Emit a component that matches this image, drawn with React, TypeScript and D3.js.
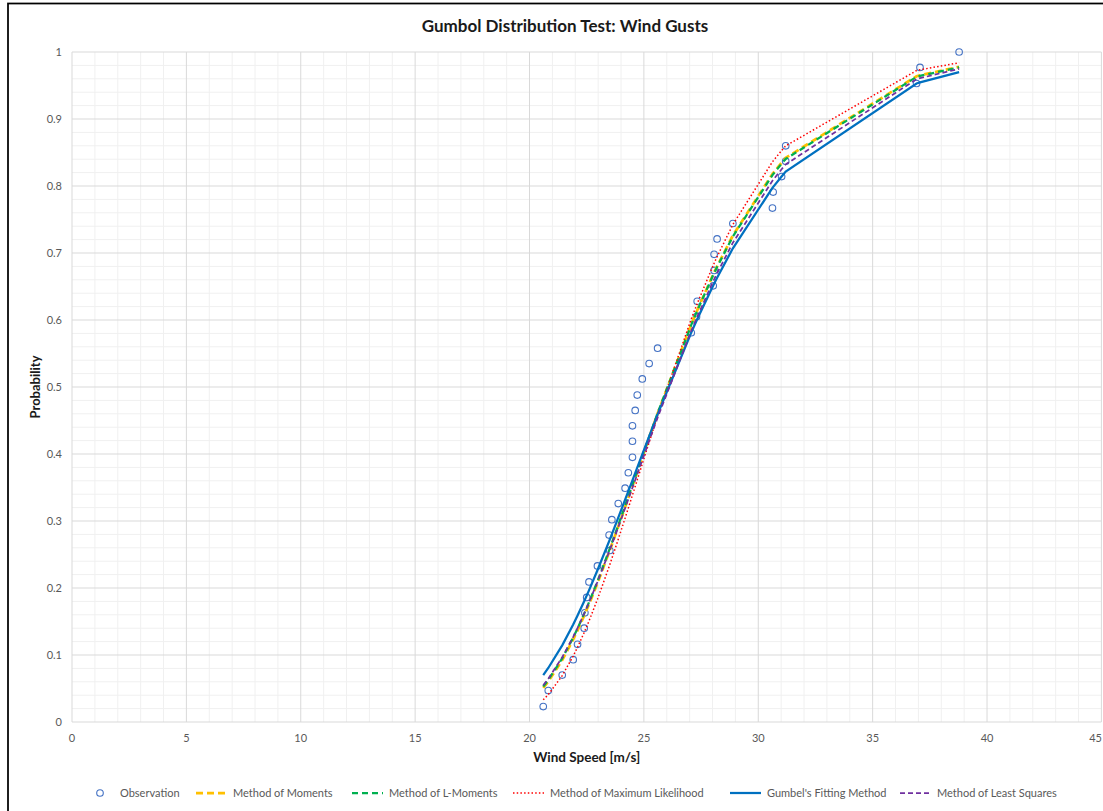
import React from "react";
import * as d3 from "d3";

// ---- Data ----
const obsX = [20.6, 20.82, 21.43, 21.91, 22.1, 22.39, 22.42, 22.5, 22.6, 22.97, 23.51, 23.48, 23.6, 23.88, 24.18, 24.32, 24.5, 24.5, 24.5, 24.62, 24.71, 24.93, 25.23, 25.6, 27.07, 27.3, 27.33, 28.03, 28.07, 28.07, 28.2, 28.89, 30.62, 30.65, 31.02, 31.2, 31.2, 36.92, 37.07, 38.78];
const obsP = [0.023, 0.047, 0.07, 0.093, 0.116, 0.14, 0.163, 0.186, 0.209, 0.233, 0.256, 0.279, 0.302, 0.326, 0.349, 0.372, 0.395, 0.419, 0.442, 0.465, 0.488, 0.512, 0.535, 0.558, 0.581, 0.605, 0.628, 0.651, 0.674, 0.698, 0.721, 0.744, 0.767, 0.791, 0.814, 0.837, 0.86, 0.953, 0.977, 1.0];

const fitX = [20.6, 20.82, 21.43, 21.91, 22.1, 22.39, 22.6, 22.97, 23.5, 23.88, 24.18, 24.5, 24.71, 24.93, 25.23, 25.6, 27.07, 27.33, 28.03, 28.2, 28.89, 30.62, 31.02, 31.2, 36.92, 37.07, 38.78];
const momentsP = [0.0509, 0.0604, 0.0924, 0.1233, 0.1368, 0.1589, 0.1757, 0.2072, 0.2554, 0.2917, 0.3208, 0.3524, 0.3732, 0.3949, 0.4245, 0.4604, 0.5932, 0.6144, 0.668, 0.6802, 0.7261, 0.8179, 0.8348, 0.842, 0.9638, 0.9652, 0.9779];
const lMomentsP = [0.053, 0.0627, 0.095, 0.1261, 0.1396, 0.1617, 0.1785, 0.2099, 0.258, 0.2938, 0.3229, 0.3541, 0.3748, 0.3963, 0.4255, 0.4611, 0.5927, 0.6138, 0.6671, 0.6791, 0.7247, 0.8163, 0.8333, 0.8404, 0.9629, 0.9643, 0.9772];
const maxLikP = [0.0331, 0.0409, 0.0692, 0.0984, 0.1116, 0.1335, 0.1506, 0.1831, 0.2338, 0.2728, 0.3044, 0.3387, 0.3614, 0.3852, 0.4175, 0.4569, 0.6015, 0.6244, 0.6816, 0.6945, 0.7425, 0.8361, 0.8529, 0.8599, 0.9723, 0.9735, 0.9839];
const gumbelP = [0.07, 0.0806, 0.1144, 0.1456, 0.159, 0.1803, 0.1965, 0.2265, 0.2715, 0.3049, 0.3318, 0.3606, 0.3796, 0.3995, 0.4264, 0.4592, 0.5813, 0.6012, 0.6515, 0.6631, 0.707, 0.7972, 0.8142, 0.8215, 0.9529, 0.9546, 0.9699];
const leastSqP = [0.0549, 0.0646, 0.0966, 0.1271, 0.1404, 0.1619, 0.1784, 0.2091, 0.2558, 0.2908, 0.3192, 0.3497, 0.3698, 0.3909, 0.4195, 0.4543, 0.584, 0.6049, 0.6577, 0.6698, 0.7154, 0.8078, 0.8251, 0.8323, 0.9595, 0.961, 0.9749];

const xTicks = [0, 5, 10, 15, 20, 25, 30, 35, 40, 45];
const yTicks = [0, 0.1, 0.2, 0.3, 0.4, 0.5, 0.6, 0.7, 0.8, 0.9, 1];

const seriesNames = ["Method of Moments", "Method of L-Moments", "Method of Maximum Likelihood", "Gumbel's Fitting Method", "Method of Least Squares"];
const seriesValues = [momentsP, lMomentsP, maxLikP, gumbelP, leastSqP];

// ---- Styles ----
const seriesStyles = [
  { color: "#FFC000", width: 2.75, dash: "7,4" },
  { color: "#00B050", width: 2.25, dash: "6,4" },
  { color: "#FF0000", width: 1.5, dash: "1.5,2.2" },
  { color: "#0070C0", width: 2.25, dash: "" },
  { color: "#7030A0", width: 1.75, dash: "5,3" },
];
const legendLineX = [196, 352, 513, 730, 900];
const FONT = "Lato, 'Open Sans', sans-serif";

export default function App() {
  const W = 1103, H = 811;
  const left = 72, right = 1101.4, top = 52, bottom = 722;
  const x = d3.scaleLinear().domain([0, 45]).range([left, right]);
  const y = d3.scaleLinear().domain([0, 1]).range([bottom, top]);

  const minorX = d3.range(0, 46, 1).filter((v) => v % 5 !== 0);
  const minorY = d3.range(0, 51, 1).map((v) => v / 50).filter((v, i) => i % 5 !== 0);

  const line = d3
    .line<number>()
    .x((_, i) => x(fitX[i]))
    .y((d) => y(d));

  return (
    <svg width={W} height={H} style={{ position: "absolute", left: 0, top: 0, background: "#fff" }} fontFamily={FONT}>
      <rect x={0} y={0} width={W} height={H} fill="#fff" />
      <rect x={8} y={3.5} width={W + 20} height={H + 20} fill="none" stroke="#000" strokeWidth={1.75} />
      <text x={565} y={32} textAnchor="middle" fontSize={17} fontWeight="bold" fill="#1a1a1a">
        Gumbol Distribution Test: Wind Gusts
      </text>

      {/* minor grid */}
      {minorX.map((v) => (
        <line key={"mx" + v} x1={x(v)} x2={x(v)} y1={top} y2={bottom} stroke="#f0f0f0" strokeWidth={1} />
      ))}
      {minorY.map((v) => (
        <line key={"my" + v} x1={left} x2={right} y1={y(v)} y2={y(v)} stroke="#f0f0f0" strokeWidth={1} />
      ))}
      {/* major grid */}
      {xTicks.map((v) => (
        <line key={"gx" + v} x1={x(v)} x2={x(v)} y1={top} y2={bottom} stroke="#d9d9d9" strokeWidth={1} />
      ))}
      {yTicks.map((v) => (
        <line key={"gy" + v} x1={left} x2={right} y1={y(v)} y2={y(v)} stroke="#d9d9d9" strokeWidth={1} />
      ))}

      {/* tick labels */}
      {xTicks.map((v) => {
        const px = x(v);
        const edge = px + 8 > W;
        return (
          <text key={"tx" + v} x={edge ? W - 1 : px} y={742} textAnchor={edge ? "end" : "middle"} fontSize={11} fill="#595959">
            {v}
          </text>
        );
      })}
      {yTicks.map((v) => (
        <text key={"ty" + v} x={62} y={y(v) + 4} textAnchor="end" fontSize={11} fill="#595959">
          {v}
        </text>
      ))}

      {/* axis titles */}
      <text x={(left + right) / 2} y={762} textAnchor="middle" fontSize={13.5} fontWeight="bold" fill="#1a1a1a">
        Wind Speed [m/s]
      </text>
      <text transform={`translate(40, ${(top + bottom) / 2}) rotate(-90)`} textAnchor="middle" fontSize={13} fontWeight="bold" fill="#1a1a1a">
        Probability
      </text>

      {/* observations */}
      {obsX.map((v, i) => (
        <circle key={"o" + i} cx={x(v)} cy={y(obsP[i])} r={3.3} fill="none" stroke="#4472C4" strokeWidth={1.1} />
      ))}

      {/* fitted lines */}
      {seriesValues.map((vals, k) => (
        <path
          key={"s" + k}
          d={line(vals) || ""}
          fill="none"
          stroke={seriesStyles[k].color}
          strokeWidth={seriesStyles[k].width}
          strokeDasharray={seriesStyles[k].dash || undefined}
        />
      ))}

      {/* legend */}
      <g fontSize={11} fill="#595959">
        <circle cx={100} cy={793} r={3.3} fill="none" stroke="#4472C4" strokeWidth={1.1} />
        <text x={120} y={797}>Observation</text>
        {seriesNames.map((name, k) => (
          <g key={"l" + k}>
            <line
              x1={legendLineX[k]}
              x2={legendLineX[k] + 31}
              y1={793}
              y2={793}
              stroke={seriesStyles[k].color}
              strokeWidth={seriesStyles[k].width}
              strokeDasharray={seriesStyles[k].dash || undefined}
            />
            <text x={legendLineX[k] + 37} y={797}>{name}</text>
          </g>
        ))}
      </g>
    </svg>
  );
}
